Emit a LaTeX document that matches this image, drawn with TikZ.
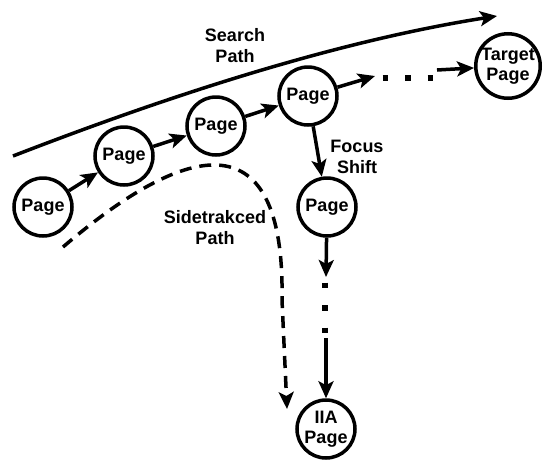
\documentclass[tikz,border=0pt]{standalone}
\usepackage{fontspec}
\setmainfont{Liberation Sans}
\usetikzlibrary{arrows.meta}

\tikzset{
	page/.style = {draw, circle, line width = 3.5pt, minimum size = 58pt, inner sep = 0pt, align = center, font = \fontsize{18}{20}\selectfont\bfseries},
	lbl/.style = {align = center, font = \fontsize{18}{21}\selectfont\bfseries},
	link/.style = {line width = 3.5pt, -{Stealth[length = 17pt, width = 15pt, inset = 4pt]}},
	dots/.style = {line width = 5.5pt, dash pattern = on 5.5pt off 17pt}
}

\begin{document}
\begin{tikzpicture}[x = 1pt, y = -1pt]
	
	\useasboundingbox (0,0) rectangle (550,472);
	
	\node[page] (p1) at (43, 207) {Page};
	\node[page] (p2) at (124, 156) {Page};
	\node[page] (p3) at (216, 126) {Page};
	\node[page] (p4) at (308, 96) {Page};
	\node[page] (target) at (508, 66) {Target\\Page};
	\node[page] (p5) at (327, 207) {Page};
	\node[page] (iia) at (326, 429) {IIA\\Page};
	
	\draw[link] (p1) to (p2);
	\draw[link] (p2) to (p3);
	\draw[link] (p3) to (p4);
	\draw[link] (p4) to (p5);
	
	% towards the target
	\coordinate (a) at (375, 76);
	\coordinate (b) at (437, 70);
	\draw[link] (p4) to (a);
	\draw[dots] (382.5, 78) to (432.5, 78);
	\draw[link] (b) to (target);
	
	% down to the IIA page
	\coordinate (c) at (326, 277);
	\coordinate (d) at (326, 338);
	\draw[link] (p5) to (c);
	\draw[dots] (325, 282.5) to (325, 332.5);
	\draw[link] (d) to (iia);
	
	% search path
	\coordinate (s0) at (13, 156);
	\coordinate (s1) at (497, 16);
	\draw[link] (s0) .. controls (150, 103) and (325, 43) .. (s1);
	\node[lbl] (search) at (235, 46) {Search\\Path};
	
	% sidetracked path
	\coordinate (t0) at (63, 247);
	\coordinate (t1) at (282, 300);
	\coordinate (t2) at (287, 409);
	\draw[link, dash pattern = on 12pt off 8pt] (t0) .. controls (200, 130) and (285, 130) .. (t1) -- (t2);
	\node[lbl] (side) at (215, 228) {Sidetrakced\\Path};
	
	\node[lbl] (focus) at (357, 157) {Focus\\Shift};
\end{tikzpicture}
\end{document}
